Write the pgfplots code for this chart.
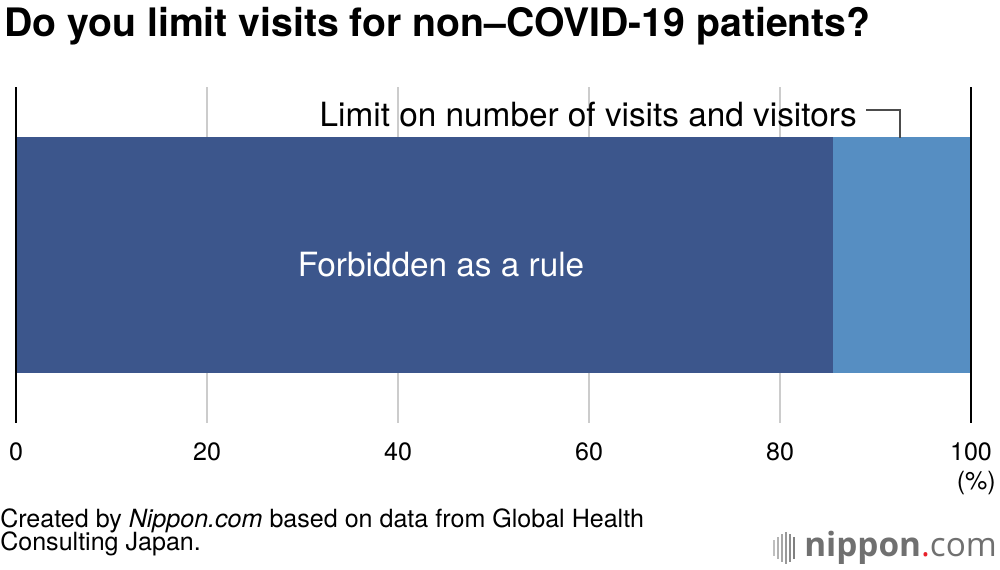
\documentclass[border=0pt]{standalone}
\usepackage{pgfplots}
\pgfplotsset{compat=1.18}
\usepackage{fontspec}
\setmainfont{TeX Gyre Heros}
\newfontfamily\logofont{Open Sans}
\definecolor{darkbar}{HTML}{3C568C}
\definecolor{lightbar}{HTML}{568EC2}
\definecolor{gridgray}{HTML}{CCCCCC}
\definecolor{logogray}{HTML}{707070}
\definecolor{logored}{HTML}{E8202A}
\begin{document}
\begin{tikzpicture}[x=0.75pt,y=0.75pt]
\path[use as bounding box] (0,0) rectangle (1000,570);
% title
\node[anchor=base west,inner sep=0pt,font=\fontsize{29.4}{32}\selectfont\bfseries] at (4,570-37) {Do you limit visits for non--COVID-19 patients?};
\begin{axis}[
  at={(12pt,110.25pt)}, anchor=south west,
  scale only axis,
  width=716.25pt, height=252pt,
  xmin=0, xmax=100, ymin=0, ymax=1,
  xbar stacked,
  bar width=177pt,
  axis line style={draw=none},
  ytick=\empty,
  xtick={0,20,40,60,80,100},
  xmajorgrids,
  grid style={gridgray, line width=1.2pt},
  major tick length=0pt,
  xticklabel style={font=\fontsize{18.8}{22}\selectfont, yshift=-11pt},
  /pgf/number format/assume math mode=true,
  clip=false,
]
\addplot[fill=darkbar, draw=none] coordinates {(85.6,0.5)};
\addplot[fill=lightbar, draw=none] coordinates {(14.4,0.5)};
\coordinate (b0) at (axis cs:0,0);
\coordinate (t0) at (axis cs:0,1);
\coordinate (b1) at (axis cs:100,0);
\coordinate (t1) at (axis cs:100,1);
\end{axis}
\draw[black, line width=1.3pt] (b0) -- (t0);
\draw[black, line width=1.3pt] (b1) -- (t1);
\node[white, anchor=base, inner sep=0pt, font=\fontsize{25}{28}\selectfont] at (441,570-277) {Forbidden as a rule};
% annotation
\node[anchor=base east,inner sep=0pt,font=\fontsize{25}{28}\selectfont] at (857,570-127) {Limit on number of visits and visitors};
\draw[black!70, line width=1pt] (866,570-110) -- (900,570-110) -- (900,570-138);
% (%)
\node[anchor=base east,inner sep=0pt,font=\fontsize{18.8}{22}\selectfont] at (996,570-490) {(\%)};
% footer
\node[anchor=base west,inner sep=0pt,font=\fontsize{18.8}{22}\selectfont] at (0,570-528) {Created by \textit{Nippon.com} based on data from Global Health};
\node[anchor=base west,inner sep=0pt,font=\fontsize{18.8}{22}\selectfont] at (0,570-551) {Consulting Japan.};
% logo
\foreach \xx/\hh/\cc in {774/8/25,778/11/30,782/14/35,786/16/40,790/14/45,794/11/50}{
  \draw[black!\cc, line width=1.5pt] (\xx,570-548-\hh) -- (\xx,570-548+\hh);
}
\node[anchor=base west,inner sep=0pt,font=\logofont\fontsize{25}{28}\selectfont,text=logogray] at (804,570-557) {\textbf{nippon}\textcolor{logored}{.}com};
\end{tikzpicture}
\end{document}
